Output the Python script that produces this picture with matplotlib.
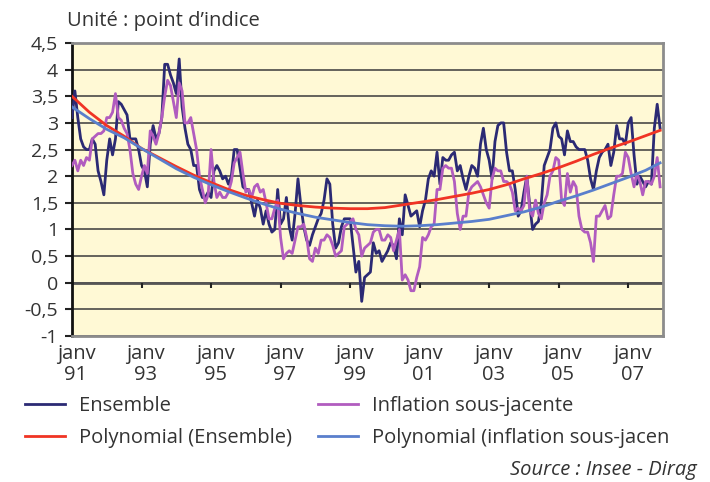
import numpy as np
import matplotlib
matplotlib.use("Agg")
import matplotlib.pyplot as plt
import matplotlib.transforms as mtransforms

# monthly values, janv 1991 -> dec 2007 (one row per year)
ensemble = [
    3.1, 3.6, 3.1, 2.7, 2.55, 2.5, 2.5, 2.7, 2.6, 2.1, 1.9, 1.65,
    2.3, 2.7, 2.4, 2.7, 3.4, 3.35, 3.25, 3.15, 2.7, 2.7, 2.7, 2.5,
    2.2, 2.1, 1.8, 2.6, 2.95, 2.7, 2.8, 3.1, 4.1, 4.1, 3.9, 3.75,
    3.55, 4.2, 3.3, 2.9, 2.6, 2.5, 2.2, 2.2, 1.75, 1.6, 1.6, 1.7,
    1.6, 2.1, 2.2, 2.1, 1.95, 2.0, 1.85, 2.0, 2.5, 2.5, 2.15, 1.8,
    1.75, 1.75, 1.5, 1.25, 1.55, 1.4, 1.1, 1.35, 1.1, 0.95, 1.0, 1.75,
    1.1, 1.2, 1.6, 1.05, 0.8, 1.3, 1.95, 1.45, 1.05, 0.8, 0.7, 0.9,
    1.05, 1.2, 1.3, 1.55, 1.95, 1.85, 1.1, 0.65, 0.75, 1.05, 1.2, 1.2,
    1.2, 0.7, 0.2, 0.4, -0.35, 0.1, 0.15, 0.2, 0.75, 0.55, 0.6, 0.4,
    0.5, 0.6, 0.75, 0.7, 0.45, 1.2, 0.9, 1.65, 1.45, 1.25, 1.3, 1.35,
    1.05, 1.35, 1.55, 1.95, 2.1, 2.0, 2.45, 1.85, 2.35, 2.3, 2.3, 2.4,
    2.45, 2.1, 2.2, 1.95, 1.75, 2.0, 2.2, 2.15, 2.0, 2.6, 2.9, 2.5,
    2.3, 1.95, 2.65, 2.95, 3.0, 3.0, 2.45, 2.1, 2.1, 1.75, 1.25, 1.35,
    1.7, 2.0, 1.45, 1.0, 1.1, 1.15, 1.5, 2.2, 2.35, 2.5, 2.9, 3.0,
    2.75, 2.7, 2.4, 2.85, 2.65, 2.65, 2.55, 2.5, 2.5, 2.5, 2.3, 1.95,
    1.75, 2.1, 2.35, 2.45, 2.5, 2.6, 2.2, 2.45, 2.95, 2.7, 2.7, 2.6,
    3.0, 3.1, 2.4, 1.85, 2.0, 1.9, 1.8, 1.9, 1.85, 2.9, 3.35, 2.9,
]

inflation_sj = [
    2.2, 2.3, 2.1, 2.3, 2.2, 2.35, 2.3, 2.7, 2.75, 2.8, 2.8, 2.85,
    3.1, 3.1, 3.2, 3.55, 3.1, 3.05, 2.9, 2.8, 2.5, 2.05, 1.85, 1.75,
    2.0, 2.2, 2.05, 2.85, 2.75, 2.6, 2.8, 3.1, 3.5, 3.8, 3.7, 3.4,
    3.1, 3.75, 3.6, 3.0, 3.0, 3.1, 2.8, 2.5, 2.0, 1.75, 1.5, 1.65,
    2.5, 1.9, 1.6, 1.7, 1.6, 1.6, 1.7, 1.9, 2.25, 2.35, 2.45, 2.05,
    1.7, 1.75, 1.6, 1.8, 1.85, 1.7, 1.75, 1.5, 1.2, 1.2, 1.4, 1.55,
    0.85, 0.45, 0.55, 0.6, 0.55, 0.8, 1.05, 1.05, 1.1, 0.85, 0.45, 0.4,
    0.65, 0.55, 0.8, 0.8, 0.9, 0.85, 0.7, 0.5, 0.55, 0.6, 1.05, 1.1,
    1.15, 1.2, 1.0, 0.9, 0.5, 0.65, 0.7, 0.75, 0.95, 1.0, 1.0, 0.8,
    0.8, 0.9, 0.85, 0.6, 0.8, 1.0, 0.05, 0.15, 0.05, -0.15, -0.15, 0.1,
    0.3, 0.85, 0.8, 0.9, 1.05, 1.1, 1.75, 1.75, 2.15, 2.2, 2.15, 2.15,
    1.9, 1.3, 1.0, 1.25, 1.25, 1.7, 1.8, 1.85, 1.9, 1.8, 1.65, 1.5,
    1.4, 1.95, 2.15, 2.1, 2.1, 1.9, 1.9, 1.85, 1.7, 1.35, 1.4, 1.35,
    1.45, 2.0, 1.35, 1.25, 1.55, 1.3, 1.2, 1.5, 1.65, 2.0, 2.1, 2.35,
    2.3, 1.55, 1.45, 2.05, 1.7, 1.9, 1.8, 1.25, 1.0, 0.95, 0.95, 0.75,
    0.4, 1.25, 1.25, 1.35, 1.45, 1.2, 1.25, 1.65, 2.0, 2.0, 2.05, 2.45,
    2.35, 2.05, 1.8, 2.05, 1.9, 1.65, 1.9, 1.9, 1.85, 2.0, 2.35, 1.8,
]

# trend curves read every 6 months
trend_months = [0, 6, 12, 18, 24, 30, 36, 42, 48, 54, 60, 66, 72, 78, 84, 90, 96,
                102, 108, 114, 120, 126, 132, 138, 144, 150, 156, 162, 168, 174,
                180, 186, 192, 198, 203]
poly_ensemble = [3.5, 3.2, 2.95, 2.75, 2.52, 2.35, 2.18, 2.02, 1.88, 1.75, 1.64,
                 1.56, 1.49, 1.45, 1.42, 1.4, 1.39, 1.39, 1.41, 1.46, 1.51, 1.56,
                 1.62, 1.68, 1.75, 1.84, 1.95, 2.05, 2.16, 2.28, 2.41, 2.53, 2.64,
                 2.76, 2.86]
poly_inflation = [3.3, 3.08, 2.88, 2.72, 2.52, 2.33, 2.14, 1.98, 1.84, 1.71, 1.59,
                  1.48, 1.38, 1.3, 1.23, 1.18, 1.13, 1.09, 1.07, 1.06, 1.07, 1.09,
                  1.12, 1.15, 1.19, 1.26, 1.33, 1.42, 1.53, 1.63, 1.74, 1.86, 1.98,
                  2.11, 2.25]

tick_labels = ["janv\n91", "janv\n93", "janv\n95", "janv\n97", "janv\n99",
               "janv\n01", "janv\n03", "janv\n05", "janv\n07"]
y_ticks = [4.5, 4, 3.5, 3, 2.5, 2, 1.5, 1, 0.5, 0, -0.5, -1]
y_labels = ["4,5", "4", "3,5", "3", "2,5", "2", "1,5", "1", "0,5", "0", "-0,5", "-1"]

plt.rcParams['font.family'] = ['Open Sans', 'DejaVu Sans']
text_col = '#333333'
fs = 14.5

fig = plt.figure(figsize=(7.1, 4.82), dpi=100)
ax = fig.add_axes([72 / 710, 1 - 336 / 482, 591 / 710, 293 / 482])
ax.set_facecolor('#fff9d5')

months = np.arange(len(ensemble))
l_ens, = ax.plot(months, ensemble, color='#2b2a74', lw=2, zorder=3)
l_inf, = ax.plot(months, inflation_sj, color='#b15cbf', lw=2, zorder=3)
l_pe, = ax.plot(trend_months, poly_ensemble, color='#f03424', lw=2, zorder=4)
l_pi, = ax.plot(trend_months, poly_inflation, color='#5a7fcc', lw=2, zorder=4)

ax.set_xlim(0, 204)
ax.set_ylim(-1, 4.5)
for y in y_ticks:
    ax.axhline(y, color='#3a3a3a', lw=1.1, zorder=1)
ax.axhline(0, color='#555555', lw=2, zorder=2)

xt = np.arange(0, len(ensemble), 24)
ax.vlines(xt, -0.09, 0, color='#222222', lw=1.5, zorder=2)
ax.set_xticks(xt)
ax.set_xticklabels(tick_labels, fontsize=fs, color=text_col, linespacing=1.05)
ax.tick_params(axis='x', length=0, pad=6)
# labels sit a little right of their tick, as in the original
shift = mtransforms.ScaledTranslation(4 / 100, 0, fig.dpi_scale_trans)
for lab in ax.get_xticklabels():
    lab.set_transform(lab.get_transform() + shift)
ax.set_yticks(y_ticks)
ax.set_yticklabels(y_labels, fontsize=14, color=text_col)
ax.tick_params(axis='y', length=5, width=1.5, color='#222222', pad=5)

for s in ['top', 'right', 'bottom']:
    ax.spines[s].set_color('#8c8c8c')
    ax.spines[s].set_linewidth(2)
ax.spines['left'].set_color('#111111')
ax.spines['left'].set_linewidth(2)

fig.text(67 / 710, 1 - 21 / 482, "Unité : point d\u2019indice", fontsize=fs,
         color=text_col, va='center')

leg_kw = dict(loc='upper left', frameon=False, fontsize=fs, handlelength=2.0,
              handletextpad=0.7, labelspacing=0.62, borderpad=0,
              borderaxespad=0, labelcolor=text_col)
fig.legend([l_ens, l_pe], ['Ensemble', 'Polynomial (Ensemble)'],
           bbox_to_anchor=(25 / 710, 1 - 396 / 482), **leg_kw)
fig.legend([l_inf, l_pi], ['Inflation sous-jacente', 'Polynomial (inflation sous-jacen'],
           bbox_to_anchor=(318 / 710, 1 - 396 / 482), **leg_kw)

fig.text(697 / 710, 1 - 470 / 482, "Source : Insee - Dirag", fontsize=fs,
         style='italic', color=text_col, ha='right', va='center')

fig.savefig('out.png', dpi=100)
